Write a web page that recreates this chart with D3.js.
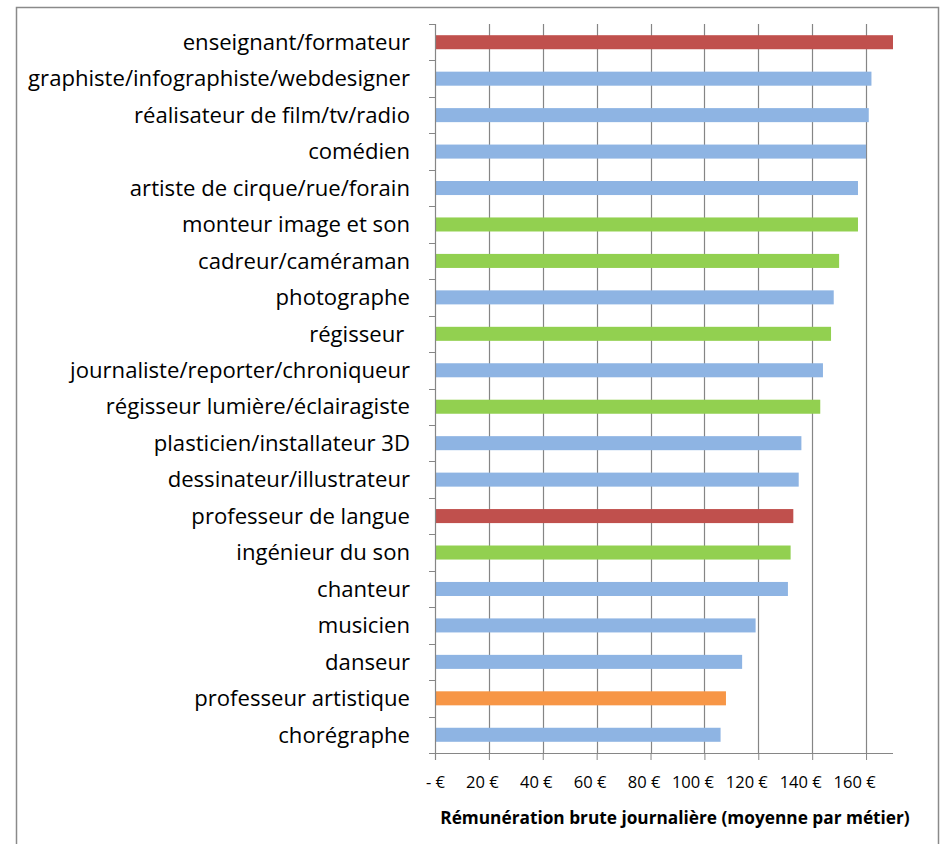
<!DOCTYPE html>
<html><head><meta charset="utf-8">
<script src="https://cdn.jsdelivr.net/npm/d3@7"></script>
<style>
body{margin:0;background:#fff;}
svg{display:block;font-family:"Open Sans",sans-serif;}
</style></head>
<body>
<svg id="chart" width="950" height="844"></svg>
<script>
const categories = ["enseignant/formateur","graphiste/infographiste/webdesigner","réalisateur de film/tv/radio","comédien","artiste de cirque/rue/forain","monteur image et son","cadreur/caméraman","photographe","régisseur ","journaliste/reporter/chroniqueur","régisseur lumière/éclairagiste","plasticien/installateur 3D","dessinateur/illustrateur","professeur de langue","ingénieur du son","chanteur","musicien","danseur","professeur artistique","chorégraphe"];
const values = [170,162,161,160,157,157,150,148,147,144,143,136,135,133,132,131,119,114,108,106];
const groups = ["enseignement","artistique","artistique","artistique","artistique","technique","technique","artistique","technique","artistique","technique","artistique","artistique","enseignement","technique","artistique","artistique","artistique","enseignement artistique","artistique"];
const groupNames = ["artistique","technique","enseignement","enseignement artistique"];
const groupColors = ["#8EB4E3","#92D050","#C0504D","#F79646"];
const xTicks = [0,20,40,60,80,100,120,140,160];
const axisTitle = "Rémunération brute journalière (moyenne par métier)";

(function(){
const svg = d3.select("#chart");
const L = 435, R = 893, T = 24, B = 753;

// chart border
svg.append("rect").attr("x",16.5).attr("y",7.5).attr("width",922).attr("height",850)
  .attr("fill","none").attr("stroke","#8a8a8a").attr("stroke-width",1.5);

const x = d3.scaleLinear().domain([0,170]).range([L,R]);
const y = d3.scaleBand().domain(categories).range([T,B]).paddingInner(0.615).paddingOuter(0.3075);
const color = d3.scaleOrdinal().domain(groupNames).range(groupColors);

// gridlines
svg.append("g").selectAll("line").data(xTicks.filter(d=>d>0)).join("line")
  .attr("x1",d=>Math.round(x(d))+0.5).attr("x2",d=>Math.round(x(d))+0.5)
  .attr("y1",T).attr("y2",B).attr("stroke","#858585").attr("stroke-width",1.2);

// bars
svg.append("g").selectAll("rect").data(categories).join("rect")
  .attr("x",x(0)).attr("y",d=>y(d))
  .attr("width",(d,i)=>x(values[i])-x(0)).attr("height",y.bandwidth())
  .attr("fill",(d,i)=>color(groups[i]));

// y axis line + boundary ticks
const step = (B-T)/categories.length;
const gy = svg.append("g");
gy.append("line").attr("x1",L+0.5).attr("x2",L+0.5).attr("y1",T).attr("y2",B+7)
  .attr("stroke","#868686").attr("stroke-width",1.2);
gy.selectAll("line.t").data(d3.range(categories.length+1)).join("line").attr("class","t")
  .attr("x1",L-6).attr("x2",L).attr("y1",i=>Math.round(T+i*step)+0.5).attr("y2",i=>Math.round(T+i*step)+0.5)
  .attr("stroke","#868686");

// category labels
const labels = svg.append("g").selectAll("text").data(categories).join("text")
  .attr("x",410).attr("y",d=>y(d)+y.bandwidth()/2).attr("dy","0.35em")
  .attr("text-anchor","end").attr("fill","#000").style("white-space","pre")
  .attr("font-size",20).text(d=>d);
let maxW = 0; labels.each(function(){maxW=Math.max(maxW,this.getComputedTextLength());});
labels.attr("font-size",20*382/maxW);

// x axis
const xAxis = d3.axisBottom(x).tickValues(xTicks).tickSize(7).tickSizeOuter(0)
  .tickFormat(d=> d===0 ? "- €" : d+" €");
const gx = svg.append("g").attr("transform",`translate(0,${B})`).call(xAxis);
gx.select(".domain").attr("stroke","#868686").attr("stroke-width",1.2).attr("d",`M${L},0.5H${R}`);
gx.selectAll(".tick line").attr("stroke","#868686");
gx.selectAll(".tick text").attr("font-family","Open Sans").attr("font-size",16.5)
  .attr("fill","#000").attr("y",29).attr("dy","0.35em")
  .attr("dx",d=> d===0 ? 0 : (d<100 ? -7 : -12));

// axis title
const title = svg.append("text").attr("x",675).attr("y",818).attr("dy","0.35em").attr("text-anchor","middle")
  .attr("font-weight","bold").attr("font-size",16).attr("fill","#000").text(axisTitle);
const tw = title.node().getComputedTextLength();
title.attr("font-size",16*470/tw);
})();
</script>
</body></html>
